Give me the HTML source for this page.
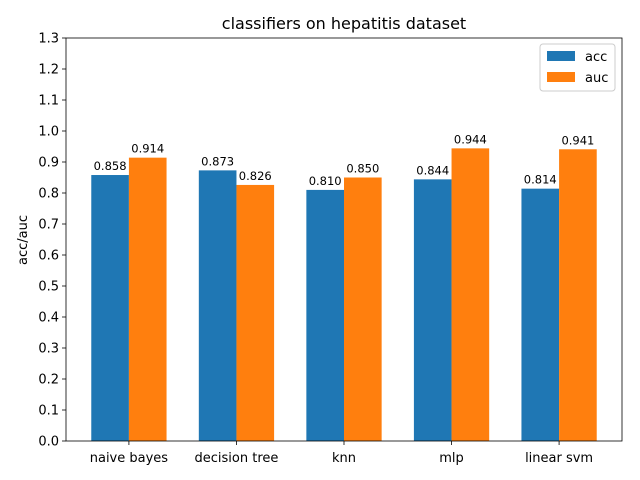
<!DOCTYPE html>
<html><head><meta charset="utf-8"><style>body{margin:0;background:#fff}svg{display:block}text{font-family:"DejaVu Sans","Liberation Sans",sans-serif}</style></head>
<body>
<svg id="chart" width="640" height="480"></svg>
<script>
const categories=["naive bayes","decision tree","knn","mlp","linear svm"];
const accValues=[0.858,0.873,0.810,0.844,0.814];
const aucValues=[0.914,0.826,0.850,0.944,0.941];
const yTicks=[0,0.1,0.2,0.3,0.4,0.5,0.6,0.7,0.8,0.9,1.0,1.1,1.2,1.3];
const L=66,R=622,T=38,B=441;
const xmin=-0.585,xmax=4.585,ymax=1.3;
const xs=v=>L+(v-xmin)/(xmax-xmin)*(R-L);
const ys=v=>B-v/ymax*(B-T);
const svg=document.getElementById('chart');
const NS='http://www.w3.org/2000/svg';
function mk(t,a,p){const e=document.createElementNS(NS,t);for(const k in a)e.setAttribute(k,a[k]);(p||svg).appendChild(e);return e;}
const title=mk('text',{x:344,y:29,'text-anchor':'middle','font-size':16,fill:'#000'});title.textContent='classifiers on hepatitis dataset';


const w=0.35;
categories.forEach((c,i)=>{
 [[accValues,'#1f77b4',-w,'acc'],[aucValues,'#ff7f0e',0,'auc']].forEach(([arr,col,off,nm])=>{
  const x0=xs(i+off),x1=xs(i+off+w),v=arr[i];
  const r=mk('rect',{x:x0,y:ys(v),width:x1-x0,height:B-ys(v),fill:col});
  
  
  const t=mk('text',{x:(x0+x1)/2,y:ys(v)-5,'text-anchor':'middle','font-size':11.5,fill:'#000'});
  t.textContent=v.toFixed(3);
  
  
 });
 const x=xs(i);
 mk('line',{x1:x,x2:x,y1:B,y2:B+4,stroke:'#000','stroke-width':0.8});
 const t=mk('text',{x:x,y:B+21,'text-anchor':'middle','font-size':13,fill:'#000'});t.textContent=c;
 
 
});
yTicks.forEach(v=>{
 const y=ys(v);
 mk('line',{x1:L-4,x2:L,y1:y,y2:y,stroke:'#000','stroke-width':0.8});
 const t=mk('text',{x:L-7,y:y+4.5,'text-anchor':'end','font-size':13,fill:'#000'});t.textContent=v.toFixed(1);
 
 
});
const frame=mk('rect',{x:L,y:T,width:R-L,height:B-T,fill:'none',stroke:'#000','stroke-width':0.8});


const yl=mk('text',{x:0,y:0,'text-anchor':'middle','font-size':13,fill:'#000',transform:'translate(27,240) rotate(-90)'});yl.textContent='acc/auc';


const lg=mk('g',{});


mk('rect',{x:540,y:44,width:75,height:47,rx:3,fill:'#fff',stroke:'#ccc','stroke-width':1},lg);
mk('rect',{x:547,y:51,width:28,height:10,fill:'#1f77b4'},lg);
mk('rect',{x:547,y:72,width:28,height:10,fill:'#ff7f0e'},lg);
const a=mk('text',{x:585,y:61,'font-size':13},lg);a.textContent='acc';


const b=mk('text',{x:585,y:82,'font-size':13},lg);b.textContent='auc';


</script>
</body></html>
